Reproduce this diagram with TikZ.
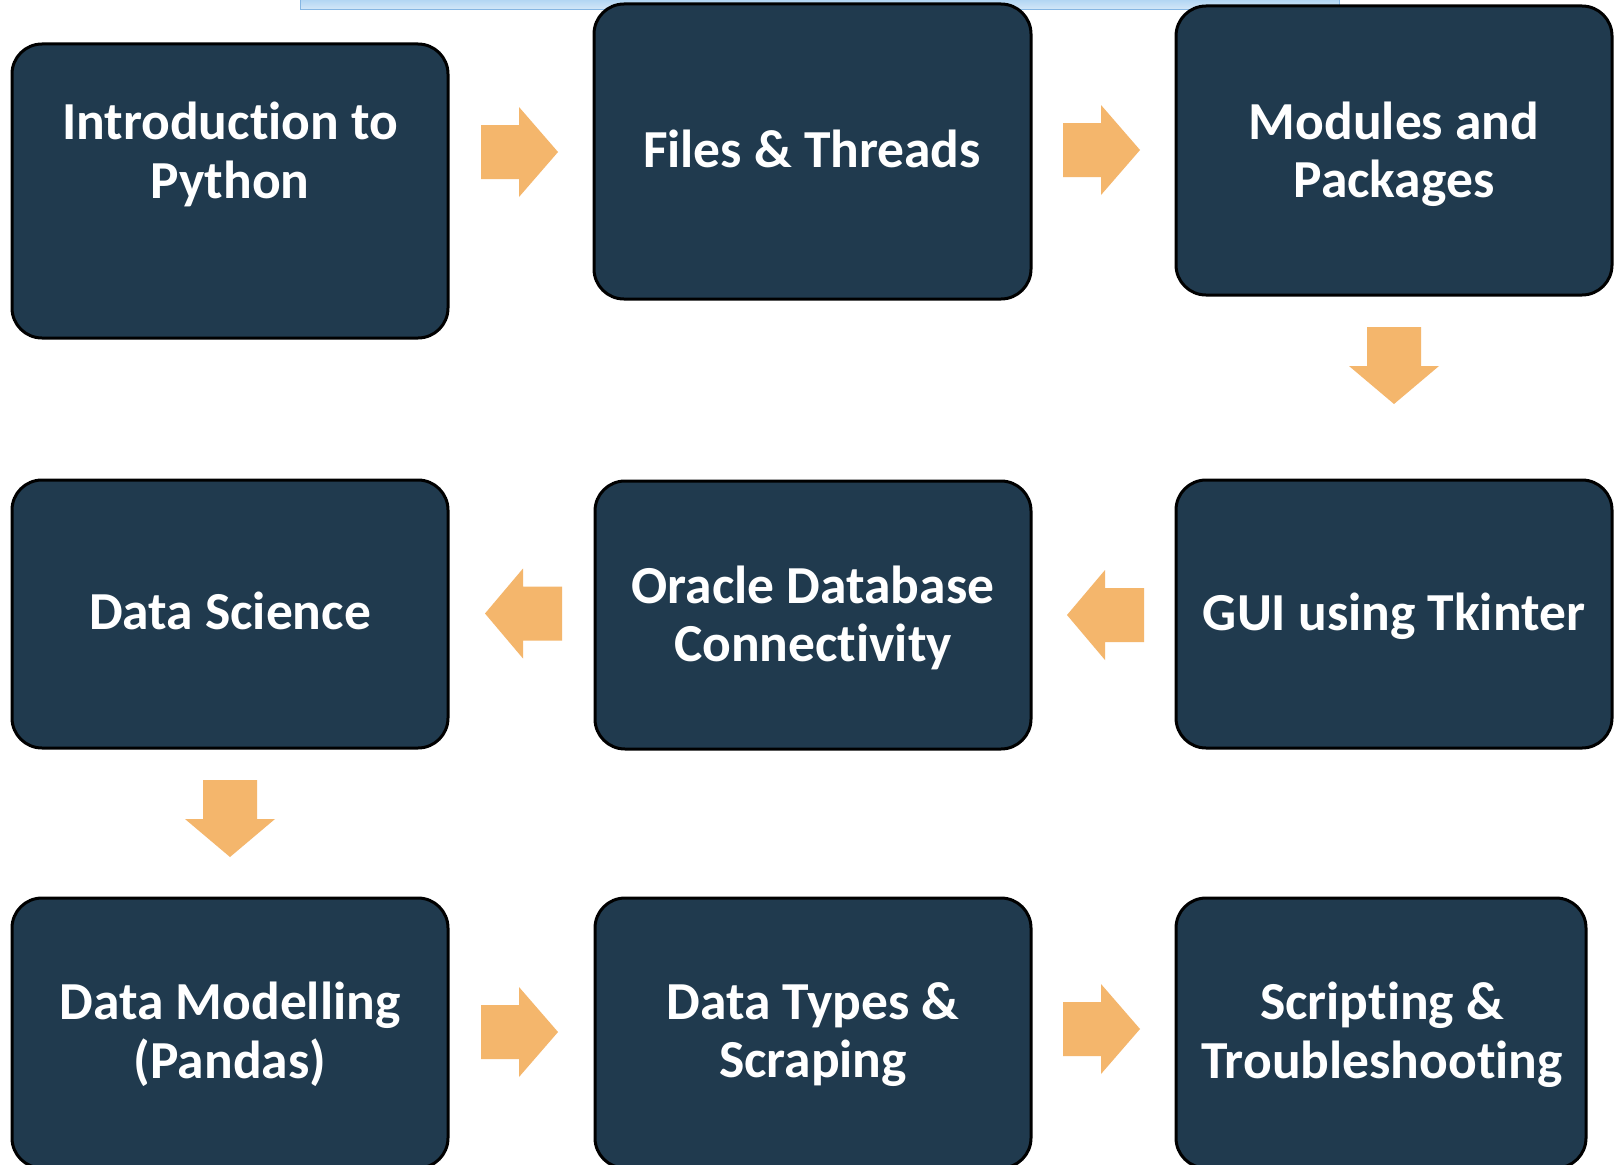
\documentclass[tikz,border=0pt]{standalone}
\usepackage{fontspec}
\setmainfont{Carlito}[Ligatures=NoCommon]
\definecolor{boxc}{HTML}{203A4E}
\definecolor{arrowc}{HTML}{F4B66C}
\definecolor{bartop}{HTML}{A8D0F2}
\definecolor{barbot}{HTML}{D4E8F8}
\definecolor{barline}{HTML}{86B6E2}
\begin{document}
\begin{tikzpicture}[x=1pt,y=-1pt,
  box/.style={draw=black, line width=3pt, fill=boxc, rounded corners=30pt,
    inner sep=0pt, outer sep=0pt, anchor=north west},
  txt/.style={text=white, font=\fontsize{53.5}{58.5}\selectfont\bfseries,
    align=center, inner sep=0pt},
  rarr/.pic={\fill[arrowc] (0,-27) -- (38,-27) -- (38,-45) -- (77,0) -- (38,45) -- (38,27) -- (0,27) -- cycle;},
  larr/.pic={\fill[arrowc] (0,0) -- (38,-45) -- (38,-27) -- (77,-27) -- (77,27) -- (38,27) -- (38,45) -- cycle;},
  darr/.pic={\fill[arrowc] (-27,0) -- (27,0) -- (27,39) -- (45,39) -- (0,77) -- (-45,39) -- (-27,39) -- cycle;}
]
\useasboundingbox (0,0) rectangle (1616,1164);
\clip (0,0) rectangle (1616,1164);
\fill[white] (0,0) rectangle (1616,1164);
% top bar
\shade[top color=bartop, bottom color=barbot, draw=barline, line width=1pt] (300,-3) rectangle (1339,9.5);
% boxes
\node[box, minimum width=436pt, minimum height=294pt] (b1) at (12,44) {};
\node[box, minimum width=437pt, minimum height=295pt] (b2) at (594,4) {};
\node[box, minimum width=436pt, minimum height=289pt] (b3) at (1176,6) {};
\node[box, minimum width=436pt, minimum height=268pt] (b4) at (12,480) {};
\node[box, minimum width=436pt, minimum height=268pt] (b5) at (595,481) {};
\node[box, minimum width=436pt, minimum height=268pt] (b6) at (1176,480) {};
\node[box, minimum width=436pt, minimum height=270pt] (b7) at (12,898) {};
\node[box, minimum width=436pt, minimum height=270pt] (b8) at (595,898) {};
\node[box, minimum width=410pt, minimum height=270pt] (b9) at (1176,898) {};
% texts
\node[txt] (t1) at (230,154.5) {Introduction to\\Python};
\node[txt] (t2) at (812,149) {Files \& Threads};
\node[txt] (t3) at (1394,154.5) {Modules and\\Packages};
\node[txt] (t4) at (230,611) {Data Science};
\node[txt] (t5) at (813,618) {Oracle Database\\Connectivity};
\node[txt] (t6) at (1394,616) {GUI using Tkinter};
\node[txt] (t7) at (230,1034.5) {Data Modelling\\(Pandas)};
\node[txt] (t8) at (813,1034.5) {Data Types \&\\Scraping};
\node[txt] (t9) at (1382,1034.5) {Scripting \&\\Troubleshooting};
% arrows
\pic at (481,152) {rarr};
\pic at (1063,150) {rarr};
\pic at (1394,327) {darr};
\pic at (1067,615) {larr};
\pic at (485,613.5) {larr};
\pic at (230,780) {darr};
\pic at (481,1032) {rarr};
\pic at (1063,1029) {rarr};
\end{tikzpicture}
\end{document}
